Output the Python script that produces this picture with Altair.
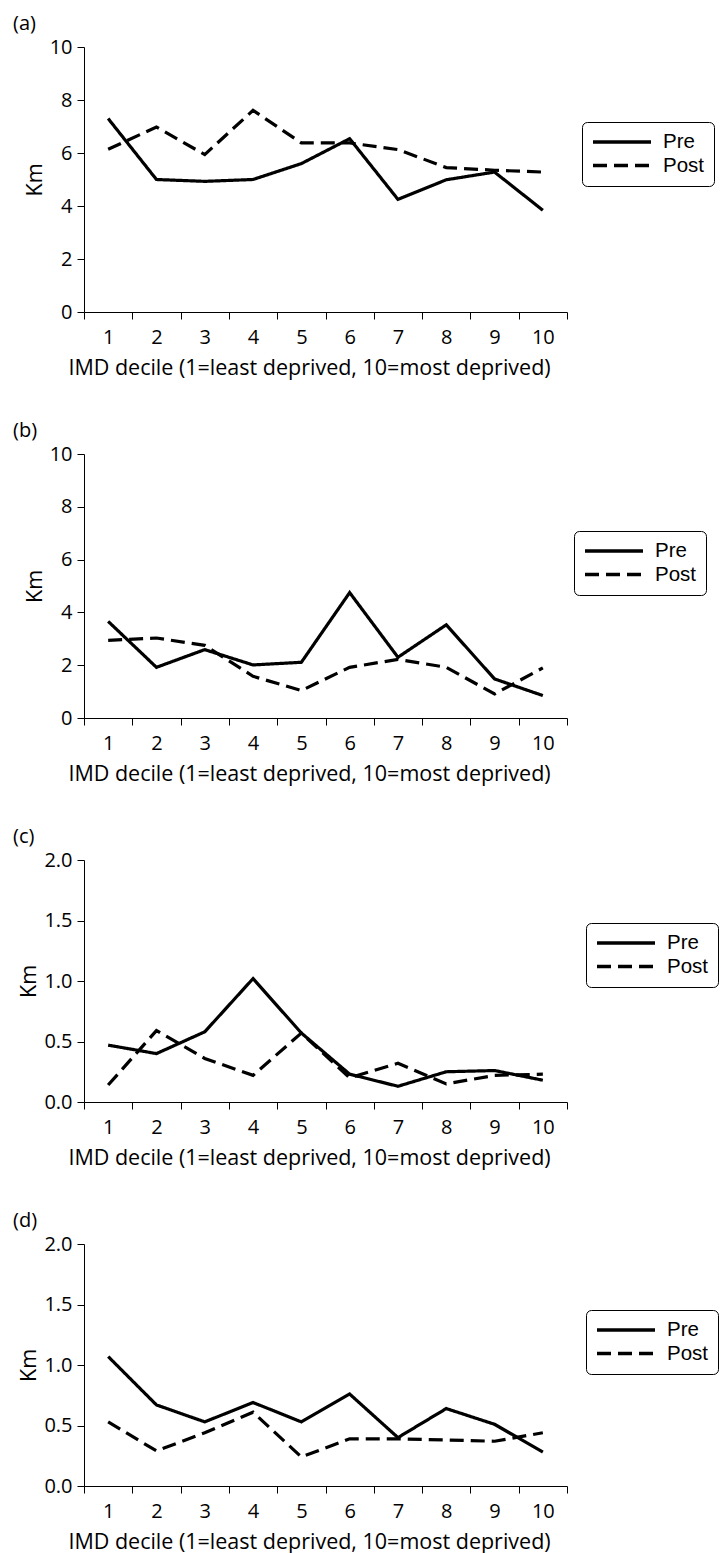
import altair as alt
import pandas as pd

FONT = "Open Sans"
LEGEND_FONT = "Liberation Sans"
XTITLE = "IMD decile (1=least deprived, 10=most deprived)"

DECILES = [1, 2, 3, 4, 5, 6, 7, 8, 9, 10]
SERIES = ["Pre", "Post"]

# Mean distance (km) by IMD decile, before and after
A_PRE = [7.30, 5.00, 4.93, 5.00, 5.60, 6.54, 4.25, 4.99, 5.28, 3.84]
A_POST = [6.14, 6.98, 5.94, 7.61, 6.38, 6.38, 6.13, 5.45, 5.35, 5.28]
B_PRE = [3.66, 1.92, 2.59, 2.01, 2.11, 4.75, 2.30, 3.53, 1.48, 0.85]
B_POST = [2.94, 3.03, 2.75, 1.58, 1.04, 1.92, 2.22, 1.92, 0.91, 1.90]
C_PRE = [0.47, 0.40, 0.58, 1.02, 0.57, 0.23, 0.13, 0.25, 0.26, 0.18]
C_POST = [0.14, 0.59, 0.36, 0.22, 0.57, 0.20, 0.32, 0.15, 0.22, 0.23]
D_PRE = [1.07, 0.67, 0.53, 0.69, 0.53, 0.76, 0.40, 0.64, 0.51, 0.28]
D_POST = [0.53, 0.29, 0.44, 0.61, 0.24, 0.39, 0.39, 0.38, 0.37, 0.44]

TICKS_10 = [0, 2, 4, 6, 8, 10]
TICKS_2 = [0, 0.5, 1.0, 1.5, 2.0]

PLOT_W = 483


def panel(tag, pre, post, y_max, y_ticks, y_fmt, h, legend_x, legend_y):
    df = pd.DataFrame({
        "decile": DECILES * 2,
        "km": pre + post,
        "period": ["Pre"] * len(pre) + ["Post"] * len(post),
    })
    title = alt.TitleParams(
        tag, anchor="start", frame="group", dx=-71, offset=3,
        fontSize=20, font=FONT, fontWeight="normal", color="black",
    )
    return (
        alt.Chart(df, title=title)
        .mark_line(color="black", strokeWidth=3.2, strokeJoin="miter")
        .encode(
            x=alt.X(
                "decile:O",
                bandPosition=0.5,
                scale=alt.Scale(type="band", paddingInner=0, paddingOuter=0),
                axis=alt.Axis(title=XTITLE, tickBand="extent", labelAngle=0, titleX=225),
            ),
            y=alt.Y(
                "km:Q",
                scale=alt.Scale(domain=[0, y_max], nice=False, zero=True),
                axis=alt.Axis(title="Km", values=y_ticks, format=y_fmt),
            ),
            strokeDash=alt.StrokeDash(
                "period:N",
                scale=alt.Scale(domain=SERIES, range=[[1, 0], [14, 7]]),
                legend=alt.Legend(title=None, orient="none", legendX=legend_x, legendY=legend_y),
            ),
        )
        .properties(width=PLOT_W, height=h)
    )


pa = panel("(a)", A_PRE, A_POST, 10, TICKS_10, "d", 265, 498, 75)
pb = panel("(b)", B_PRE, B_POST, 10, TICKS_10, "d", 264, 490, 77)
pc = panel("(c)", C_PRE, C_POST, 2, TICKS_2, ".1f", 242, 502, 63)
pd_ = panel("(d)", D_PRE, D_POST, 2, TICKS_2, ".1f", 242, 502, 66)

chart = (
    alt.vconcat(pa, pb, pc, pd_, spacing=42)
    .resolve_scale(strokeDash="independent", x="independent", y="independent")
    .resolve_legend(strokeDash="independent")
    .properties(padding={"left": 13, "top": 14, "right": 0, "bottom": 0})
    .configure_view(stroke=None)
    .configure_axis(
        domainColor="black", tickColor="black", labelColor="black", titleColor="black",
        labelFont=FONT, titleFont=FONT, labelFontSize=20, titleFontSize=21.5,
        titleFontWeight="normal", grid=False, tickSize=7, labelPadding=5,
        domainWidth=1, tickWidth=1,
    )
    .configure_axisY(titlePadding=3)
    .configure_axisX(titlePadding=10, labelPadding=8)
    .configure_legend(
        strokeColor="black", cornerRadius=5, padding=9, fillColor="white",
        labelFont=LEGEND_FONT, labelFontSize=20.5, labelColor="black",
        symbolType="stroke", symbolSize=3364, symbolStrokeWidth=3.6,
        symbolStrokeColor="black", rowPadding=1.5, labelOffset=10, clipHeight=22,
    )
)

chart.save("out.html", embed_options={"renderer": "svg", "actions": False})
